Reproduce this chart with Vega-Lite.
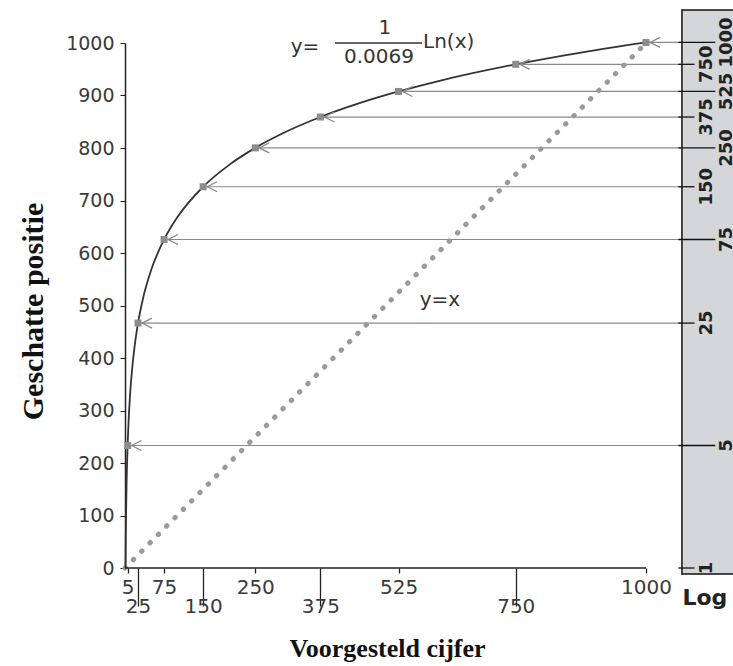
{
  "$schema": "https://vega.github.io/schema/vega-lite/v6.json",
  "autosize": {"type": "none"},
  "padding": {"left": 125, "top": 43, "right": 0, "bottom": 98},
  "width": 608,
  "height": 525,
  "background": "white",
  "config": {"view": {"stroke": null}},
  "datasets": {
    "pts": [
      {"v": 5, "y": 233.3}, {"v": 25, "y": 466.5}, {"v": 75, "y": 625.7},
      {"v": 150, "y": 726.2}, {"v": 250, "y": 800.2}, {"v": 375, "y": 859.0},
      {"v": 525, "y": 907.7}, {"v": 750, "y": 959.4}, {"v": 1000, "y": 1001.1}
    ],
    "logticks": [
      {"v": 1, "y": 0}, {"v": 5, "y": 233.3}, {"v": 25, "y": 466.5}, {"v": 75, "y": 625.7},
      {"v": 150, "y": 726.2}, {"v": 250, "y": 800.2}, {"v": 375, "y": 859.0},
      {"v": 525, "y": 907.7}, {"v": 750, "y": 959.4}, {"v": 1000, "y": 1001.1}
    ],
    "curve": [
      {"x": 1, "y": 0}, {"x": 1.5, "y": 58.8}, {"x": 2, "y": 100.5}, {"x": 3, "y": 159.2},
      {"x": 4, "y": 200.9}, {"x": 5, "y": 233.3}, {"x": 7, "y": 282.0}, {"x": 10, "y": 333.7},
      {"x": 15, "y": 392.5}, {"x": 20, "y": 434.2}, {"x": 25, "y": 466.5}, {"x": 35, "y": 515.3},
      {"x": 50, "y": 567.0}, {"x": 75, "y": 625.7}, {"x": 100, "y": 667.4}, {"x": 150, "y": 726.2},
      {"x": 200, "y": 767.9}, {"x": 250, "y": 800.2}, {"x": 300, "y": 826.6}, {"x": 375, "y": 859.0},
      {"x": 450, "y": 885.4}, {"x": 525, "y": 907.7}, {"x": 600, "y": 927.1}, {"x": 750, "y": 959.4},
      {"x": 875, "y": 981.8}, {"x": 1000, "y": 1001.1}
    ],
    "diag": [{"a": 0}, {"a": 1000}],
    "one": [{}]
  },
  "layer": [
    {
      "data": {"name": "one"},
      "mark": {"type": "rect", "fill": "#d5d6d9", "stroke": "#111", "strokeWidth": 1.5},
      "encoding": {
        "x": {"datum": 1069, "type": "quantitative",
          "scale": {"domain": [0, 1167], "nice": false, "zero": false},
          "axis": {
            "values": [5, 25, 75, 150, 250, 375, 525, 750, 1000],
            "format": "d",
            "domain": false, "grid": false,
            "tickColor": "#222", "tickWidth": 1.3,
            "tickSize": {"condition": {"test": "datum.value == 25 || datum.value == 150 || datum.value == 375 || datum.value == 750", "value": 38}, "value": 5},
            "labelPadding": {"condition": {"test": "datum.value == 25 || datum.value == 150 || datum.value == 375 || datum.value == 750", "value": 0}, "value": 14},
            "labelBaseline": "middle",
            "labelOverlap": false, "labelFlush": false,
            "labelFont": "DejaVu Sans", "labelFontSize": 20, "labelColor": "#3a3a3a",
            "title": "Voorgesteld cijfer",
            "titleFont": "Liberation Serif", "titleFontWeight": "bold", "titleFontSize": 26, "titleColor": "#111",
            "titleX": 262, "titleY": 88, "titleAlign": "center", "titleBaseline": "alphabetic", "titleAnchor": null
          }
        },
        "x2": {"datum": 1300},
        "y": {"datum": -11.4, "type": "quantitative",
          "scale": {"domain": [0, 1000], "nice": false, "zero": false},
          "axis": {
            "values": [0, 100, 200, 300, 400, 500, 600, 700, 800, 900, 1000],
            "format": "d",
            "grid": false, "domainColor": "#222", "domainWidth": 1.5,
            "tickColor": "#222", "tickSize": 5, "labelPadding": 6,
            "labelFont": "DejaVu Sans", "labelFontSize": 19, "labelColor": "#3a3a3a",
            "title": "Geschatte positie",
            "titleFont": "Liberation Serif", "titleFontWeight": "bold", "titleFontSize": 30, "titleColor": "#111",
            "titleAngle": 270, "titleX": -92, "titleY": 268, "titleAlign": "center", "titleBaseline": "middle"
          }
        },
        "y2": {"datum": 1063}
      }
    },
    {
      "data": {"name": "pts"},
      "mark": {"type": "rule", "color": "#8a8a8a", "strokeWidth": 1.2},
      "encoding": {
        "x": {"field": "v", "type": "quantitative"},
        "x2": {"datum": 1069},
        "y": {"field": "y", "type": "quantitative"}
      }
    },
    {
      "data": {"name": "diag"},
      "mark": {"type": "line", "color": "#9a9a9a", "strokeWidth": 5, "strokeCap": "round", "strokeDash": [0.5, 11.3]},
      "encoding": {
        "x": {"field": "a", "type": "quantitative"},
        "y": {"field": "a", "type": "quantitative"}
      }
    },
    {
      "data": {"name": "curve"},
      "mark": {"type": "line", "color": "#333", "strokeWidth": 1.8, "interpolate": "monotone"},
      "encoding": {
        "x": {"field": "x", "type": "quantitative"},
        "y": {"field": "y", "type": "quantitative"}
      }
    },
    {
      "data": {"name": "pts"},
      "mark": {"type": "square", "size": 49, "color": "#8c8c8c", "opacity": 1},
      "encoding": {
        "x": {"field": "v", "type": "quantitative"},
        "y": {"field": "y", "type": "quantitative"}
      }
    },
    {
      "data": {"name": "pts"},
      "mark": {"type": "point", "shape": "M 1 -1 L -1 0 L 1 1", "size": 100, "filled": false, "stroke": "#888", "strokeWidth": 1.3, "opacity": 1, "xOffset": 9},
      "encoding": {
        "x": {"field": "v", "type": "quantitative"},
        "y": {"field": "y", "type": "quantitative"}
      }
    },
    {
      "data": {"name": "logticks"},
      "transform": [{"filter": {"field": "v", "oneOf": [1, 25, 150, 375, 750]}}],
      "mark": {"type": "rule", "color": "#111", "strokeWidth": 1.3},
      "encoding": {
        "x": {"datum": 1062},
        "x2": {"datum": 1093},
        "y": {"field": "y", "type": "quantitative"}
      }
    },
    {
      "data": {"name": "logticks"},
      "transform": [{"filter": {"field": "v", "oneOf": [5, 75, 250, 525, 1000]}}],
      "mark": {"type": "rule", "color": "#111", "strokeWidth": 1.3},
      "encoding": {
        "x": {"datum": 1062},
        "x2": {"datum": 1133},
        "y": {"field": "y", "type": "quantitative"}
      }
    },
    {
      "data": {"name": "logticks"},
      "transform": [{"filter": {"field": "v", "oneOf": [1, 25, 150, 375, 750]}}],
      "mark": {"type": "text", "angle": 270, "align": "center", "baseline": "middle", "font": "DejaVu Sans", "fontWeight": "bold", "fontSize": 18, "color": "#222"},
      "encoding": {
        "x": {"datum": 1117},
        "y": {"field": "y", "type": "quantitative"},
        "text": {"field": "v", "type": "quantitative", "format": "d"}
      }
    },
    {
      "data": {"name": "logticks"},
      "transform": [{"filter": {"field": "v", "oneOf": [5, 75, 250, 525, 1000]}}],
      "mark": {"type": "text", "angle": 270, "align": "center", "baseline": "middle", "font": "DejaVu Sans", "fontWeight": "bold", "fontSize": 18, "color": "#222"},
      "encoding": {
        "x": {"datum": 1155},
        "y": {"field": "y", "type": "quantitative"},
        "text": {"field": "v", "type": "quantitative", "format": "d"}
      }
    },
    {
      "data": {"name": "one"},
      "mark": {"type": "rule", "color": "#222", "strokeWidth": 1.5},
      "encoding": {"x": {"datum": 0}, "x2": {"datum": 1000}, "y": {"datum": 0}}
    },
    {
      "data": {"name": "one"},
      "mark": {"type": "text", "text": "Log", "font": "DejaVu Sans", "fontWeight": "bold", "fontSize": 22, "color": "#222", "align": "center", "baseline": "alphabetic"},
      "encoding": {"x": {"datum": 1113}, "y": {"datum": -70.5}}
    },
    {
      "data": {"name": "one"},
      "mark": {"type": "text", "text": "y=", "font": "DejaVu Sans", "fontSize": 20, "color": "#333", "align": "center", "baseline": "middle"},
      "encoding": {"x": {"datum": 345.5}, "y": {"datum": 992.4}}
    },
    {
      "data": {"name": "one"},
      "mark": {"type": "text", "text": "1", "font": "DejaVu Sans", "fontSize": 20, "color": "#333", "align": "center", "baseline": "middle"},
      "encoding": {"x": {"datum": 499}, "y": {"datum": 1028.6}}
    },
    {
      "data": {"name": "one"},
      "mark": {"type": "text", "text": "0.0069", "font": "DejaVu Sans", "fontSize": 20, "color": "#333", "align": "center", "baseline": "middle"},
      "encoding": {"x": {"datum": 487.5}, "y": {"datum": 973}}
    },
    {
      "data": {"name": "one"},
      "mark": {"type": "rule", "color": "#333", "strokeWidth": 1.3},
      "encoding": {"x": {"datum": 403}, "x2": {"datum": 570}, "y": {"datum": 1000}}
    },
    {
      "data": {"name": "one"},
      "mark": {"type": "text", "text": "Ln(x)", "font": "DejaVu Sans", "fontSize": 20, "color": "#333", "align": "left", "baseline": "middle"},
      "encoding": {"x": {"datum": 572}, "y": {"datum": 1002}}
    },
    {
      "data": {"name": "one"},
      "mark": {"type": "text", "text": "y=x", "font": "DejaVu Sans", "fontSize": 20, "color": "#333", "align": "center", "baseline": "middle"},
      "encoding": {"x": {"datum": 604.6}, "y": {"datum": 510.5}}
    }
  ]
}
